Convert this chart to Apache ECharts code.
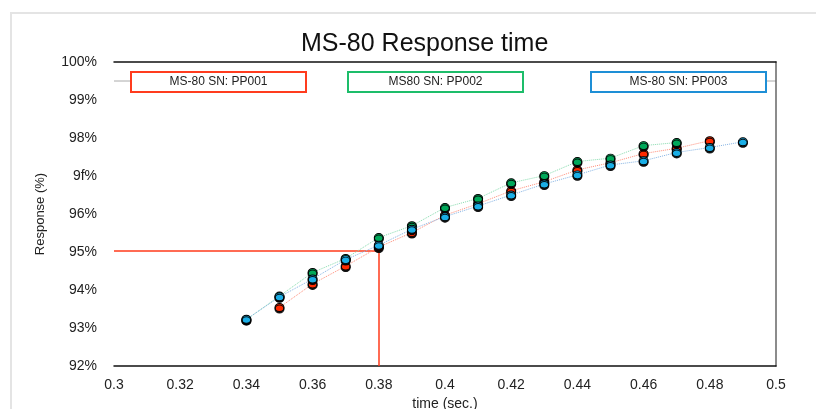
<!DOCTYPE html>
<html>
<head>
<meta charset="utf-8">
<script src="https://cdn.jsdelivr.net/npm/echarts@6/dist/echarts.min.js"></script>
<style>
  html, body { margin: 0; padding: 0; background: #fff; }
  #chart { width: 816px; height: 409px; }
</style>
</head>
<body>
<div id="chart"></div>
<script>
const seriesNames = ["MS-80 SN: PP001", "MS-80 SN: PP002", "MS-80 SN: PP003"];
const boxLabels = ["MS-80 SN: PP001", "MS80 SN: PP002", "MS-80 SN: PP003"];

const timePP001 = [0.35, 0.36, 0.37, 0.38, 0.39, 0.40, 0.41, 0.42, 0.43, 0.44, 0.45, 0.46, 0.47, 0.48];
const respPP001 = [93.54, 94.16, 94.63, 95.13, 95.51, 95.97, 96.27, 96.61, 96.85, 97.16, 97.35, 97.59, 97.73, 97.93];

const timePP002 = [0.34, 0.35, 0.36, 0.37, 0.38, 0.39, 0.40, 0.41, 0.42, 0.43, 0.44, 0.45, 0.46, 0.47];
const respPP002 = [93.22, 93.84, 94.46, 94.83, 95.38, 95.69, 96.17, 96.41, 96.82, 97.01, 97.38, 97.47, 97.80, 97.88];

const timePP003 = [0.34, 0.35, 0.36, 0.37, 0.38, 0.39, 0.40, 0.41, 0.42, 0.43, 0.44, 0.45, 0.46, 0.47, 0.48, 0.49];
const respPP003 = [93.23, 93.82, 94.29, 94.80, 95.18, 95.60, 95.93, 96.21, 96.50, 96.79, 97.03, 97.29, 97.40, 97.62, 97.75, 97.90];

const refTime = 0.38;
const refResp = 95.03;

const MARK_COLORS = ["#ff2a00", "#00a85a", "#1aaee6"];
const LINE_COLORS = ["#ff8c78", "#86dcae", "#86b4e4"];
const BOX_COLORS = ["#ff3c1e", "#1dbd6a", "#1e8fd6"];

const pairs = (xs, ys) => xs.map((x, i) => [x, ys[i]]);
const allData = [
  pairs(timePP001, respPP001),
  pairs(timePP002, respPP002),
  pairs(timePP003, respPP003),
];

const chart = echarts.init(document.getElementById("chart"));

const FONT = "Liberation Sans, Arial, sans-serif";
const labelStyle = { color: "#222", fontSize: 14, fontFamily: FONT };

const series = allData.map((data, i) => ({
  name: seriesNames[i],
  type: "line",
  data: data,
  symbol: "circle",
  symbolSize: [9, 8],
  z: 3 + i,
  lineStyle: { color: LINE_COLORS[i], width: 1, type: "dotted" },
  itemStyle: {
    color: MARK_COLORS[i],
    borderColor: "#000",
    borderWidth: 1,
    shadowColor: "rgba(0,0,0,0.9)",
    shadowOffsetY: 1.5,
    shadowBlur: 0,
  },
  emphasis: { disabled: true },
}));

series[0].markLine = {
  silent: true,
  symbol: "none",
  z: 2,
  label: { show: false },
  lineStyle: { color: "#ff3a1a", width: 1.5, type: "solid" },
  data: [
    [{ coord: [0.3, refResp] }, { coord: [refTime, refResp] }],
    [{ coord: [refTime, refResp] }, { coord: [refTime, 92] }],
  ],
};

// legend boxes drawn as plain graphic frames
const boxes = [131, 348, 591];
const graphicEls = [
  {
    type: "rect",
    shape: { x: 11, y: 13, width: 900, height: 500 },
    style: { fill: "none", stroke: "#e4e4e4", lineWidth: 2 },
    silent: true,
  },
  { type: "line", shape: { x1: 114, y1: 81, x2: 131, y2: 81 }, style: { stroke: "#aaa", lineWidth: 1 } },
  { type: "line", shape: { x1: 766, y1: 81, x2: 776, y2: 81 }, style: { stroke: "#aaa", lineWidth: 1 } },
];
boxes.forEach((bx, i) => {
  graphicEls.push({
    type: "rect",
    shape: { x: bx, y: 72, width: 175, height: 20 },
    style: { fill: "#fff", stroke: BOX_COLORS[i], lineWidth: 2 },
    z: 10,
  });
  graphicEls.push({
    type: "text",
    x: bx + 87.5,
    y: 82,
    z: 11,
    style: {
      text: boxLabels[i],
      fill: "#222",
      font: '12px "Liberation Sans", Arial, sans-serif',
      align: "center",
      verticalAlign: "middle",
    },
  });
});

chart.setOption({
  animation: false,
  backgroundColor: "#fff",
  title: {
    text: "MS-80 Response time",
    left: 296,
    top: 27,
    textStyle: { color: "#111", fontSize: 25, fontWeight: "normal", fontFamily: FONT },
  },
  grid: { left: 114, right: 40, top: 62, bottom: 43, outerBoundsMode: "none" },
  xAxis: [
    {
      type: "value",
      min: 0.3,
      max: 0.5,
      interval: 0.02,
      name: "time (sec.)",
      nameLocation: "middle",
      nameGap: 30,
      nameTextStyle: labelStyle,
      axisLine: { show: true, lineStyle: { color: "#111", width: 1.5 } },
      axisTick: { show: false },
      splitLine: { show: false },
      axisLabel: Object.assign({ margin: 12, formatter: (v) => String(parseFloat(v.toFixed(2))) }, labelStyle),
    },
    {
      type: "value",
      position: "top",
      min: 0.3,
      max: 0.5,
      axisLine: { show: true, lineStyle: { color: "#111", width: 1.5 } },
      axisTick: { show: false },
      axisLabel: { show: false },
      splitLine: { show: false },
    },
  ],
  yAxis: [
    {
      type: "value",
      min: 92,
      max: 100,
      interval: 1,
      name: "Response (%)",
      nameLocation: "middle",
      nameGap: 67,
      nameTextStyle: Object.assign({}, labelStyle, { fontSize: 13 }),
      axisLine: { show: false },
      axisTick: { show: false },
      splitLine: { show: false },
      axisLabel: Object.assign({ margin: 17, formatter: (v) => (v === 97 ? "9f%" : v + "%") }, labelStyle),
    },
    {
      type: "value",
      position: "right",
      min: 92,
      max: 100,
      axisLine: { show: true, lineStyle: { color: "#666", width: 1.5 } },
      axisTick: { show: false },
      axisLabel: { show: false },
      splitLine: { show: false },
    },
  ],
  graphic: { elements: graphicEls },
  series: series,
});
</script>
</body>
</html>
